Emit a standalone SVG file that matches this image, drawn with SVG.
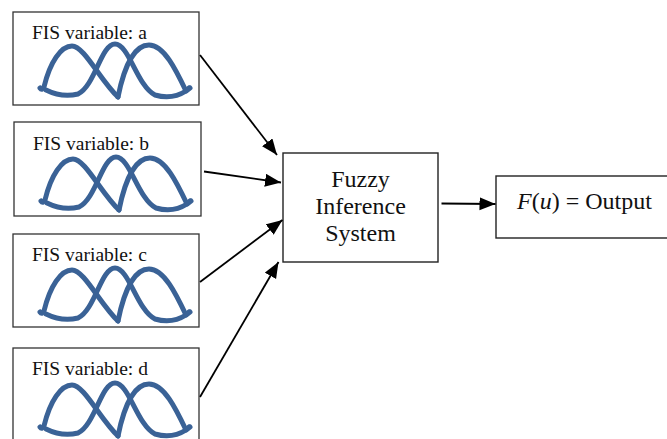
<svg xmlns="http://www.w3.org/2000/svg" xmlns:xlink="http://www.w3.org/1999/xlink" width="667" height="439" viewBox="0 0 667 439">
<style>
.box{fill:#fff;stroke:#333;stroke-width:1.3}
.mf{fill:none;stroke:#3a6296;stroke-width:5;stroke-linecap:round;stroke-linejoin:round}
.lbl{font-family:"Liberation Serif","Times New Roman",serif;font-size:19.5px;fill:#111}
.big{font-family:"Liberation Serif","Times New Roman",serif;font-size:24px;fill:#111}
.conn{stroke:#000;stroke-width:1.8;fill:none}
</style>
<defs>
<marker id="ah" markerUnits="userSpaceOnUse" markerWidth="18" markerHeight="15" refX="16" refY="6.5" orient="auto">
<path d="M0,0 L16,6.5 L0,13 z" fill="#000"/>
</marker>
<g id="curves">
<path class="mf" d="M40,88 Q42,91 44,87 C50,62 61,46 72,46 C84,46 100,80 118,97"/>
<path class="mf" d="M46,90 Q62,98 78,94 C95,86 101,44 115,44 C129,44 137,86 155,95 Q172,100 186,91 L189,88"/>
<path class="mf" d="M118,97 C125,62 136,45 149,45 C164,45 176,70 186,91 L190,88"/>
</g>
</defs>
<g id="node-a">
<rect class="box" x="13" y="12" width="186" height="93"/>
<text class="lbl" x="32" y="39">FIS variable: a</text>
<use xlink:href="#curves"/>
</g>
<g id="node-b">
<rect class="box" x="14" y="122" width="187" height="94"/>
<text class="lbl" x="33" y="150">FIS variable: b</text>
<use xlink:href="#curves" transform="translate(1,113)"/>
</g>
<g id="node-c">
<rect class="box" x="13" y="234" width="186" height="93"/>
<text class="lbl" x="32" y="261">FIS variable: c</text>
<use xlink:href="#curves" transform="translate(0,224)"/>
</g>
<g id="node-d">
<rect class="box" x="13" y="348" width="186" height="95"/>
<text class="lbl" x="32" y="375">FIS variable: d</text>
<use xlink:href="#curves" transform="translate(0,339)"/>
</g>
<g id="node-fis">
<rect x="283" y="153" width="155" height="109" fill="#fff" stroke="#222" stroke-width="1.4"/>
<text class="big" text-anchor="middle" x="360.5" y="187">Fuzzy</text>
<text class="big" text-anchor="middle" x="360.5" y="214">Inference</text>
<text class="big" text-anchor="middle" x="360.5" y="241">System</text>
</g>
<g id="node-output">
<rect x="496" y="176" width="172" height="62" fill="#fff" stroke="#222" stroke-width="1.4"/>
<text class="big" x="517" y="209"><tspan font-style="italic">F</tspan>(<tspan font-style="italic">u</tspan>) = Output</text>
</g>
<g id="connectors">
<line class="conn" x1="200" y1="55" x2="277" y2="155" marker-end="url(#ah)"/>
<line class="conn" x1="204" y1="171.5" x2="281" y2="182.5" marker-end="url(#ah)"/>
<line class="conn" x1="200" y1="282" x2="282.5" y2="220" marker-end="url(#ah)"/>
<line class="conn" x1="200" y1="397" x2="278.5" y2="262" marker-end="url(#ah)"/>
<line class="conn" x1="441.5" y1="203.5" x2="495.5" y2="204" marker-end="url(#ah)"/>
</g>
</svg>
